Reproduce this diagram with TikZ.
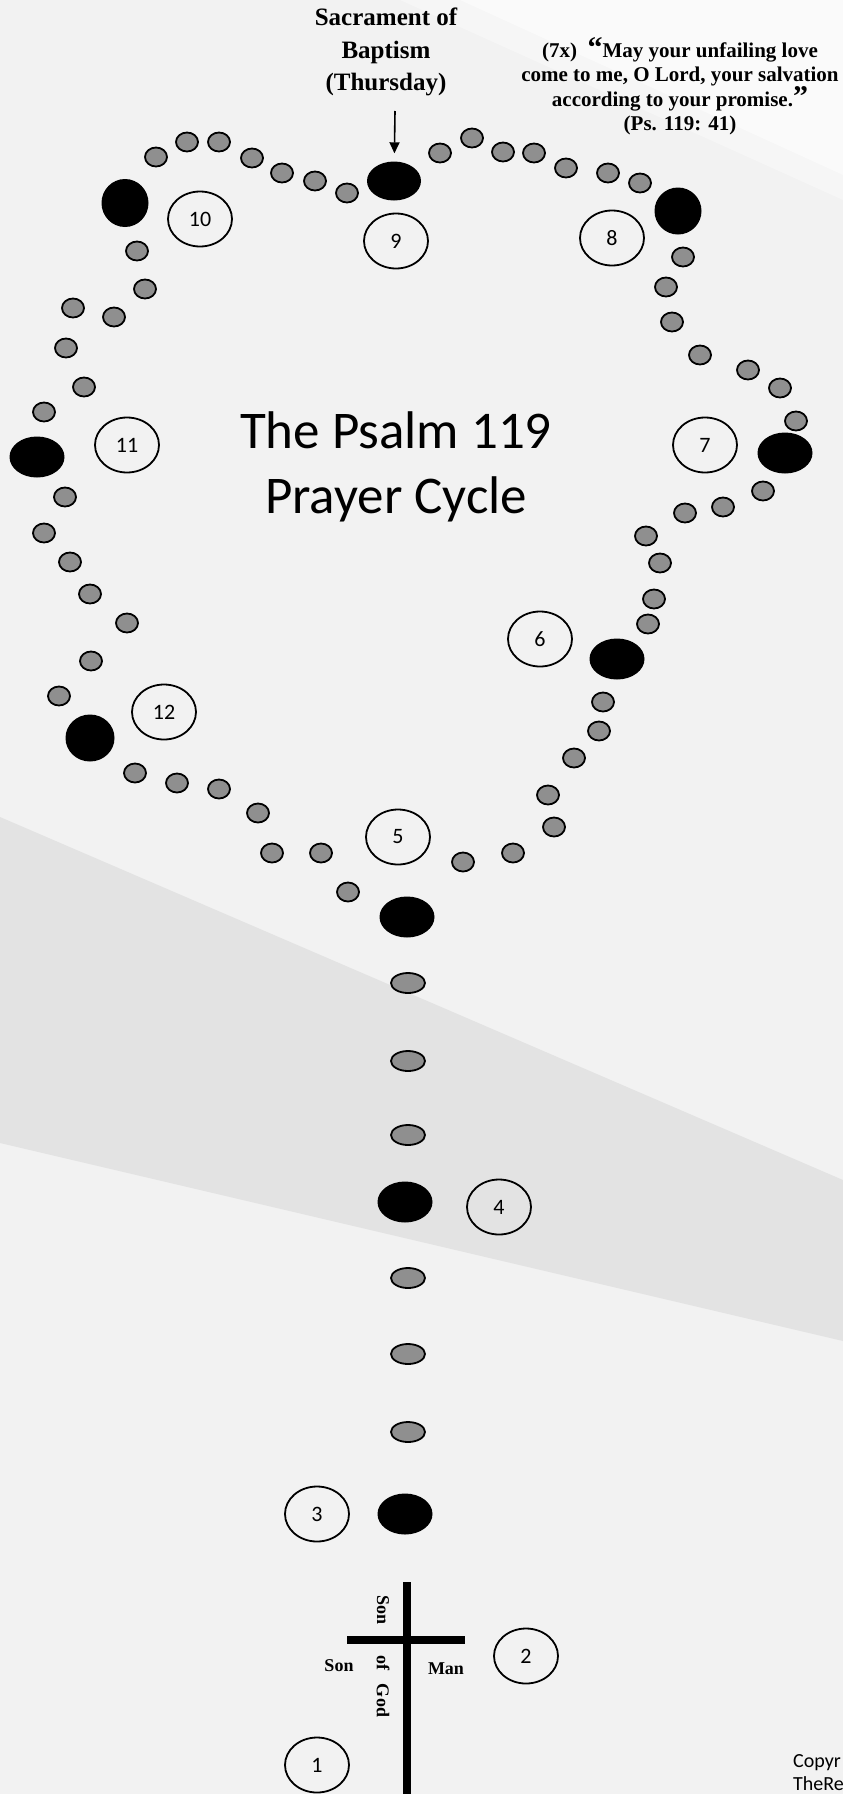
\documentclass[tikz,border=0pt]{standalone}
\usepackage{fontspec}
\setmainfont{Liberation Serif}
\newfontfamily\calibri{Carlito}
\usetikzlibrary{shapes.geometric,arrows.meta}
\definecolor{bgcol}{HTML}{F2F2F2}
\definecolor{bandcol}{HTML}{E3E3E3}
\definecolor{glarecol}{HTML}{F6F6F6}
\definecolor{glarecolb}{HTML}{FAFAFA}
\definecolor{beadgray}{HTML}{8F8F8F}

\begin{document}
\begin{tikzpicture}[x=1pt,y=-1pt,
    bead/.style ={ellipse, draw, fill=beadgray, line width=1.8pt, minimum width=22pt, minimum height=19pt, inner sep=0pt},
    stembead/.style ={bead, minimum width=34pt, minimum height=20pt},
    bigbead/.style ={ellipse, fill=black, minimum width=55pt, minimum height=41pt, inner sep=0pt},
    numcircle/.style ={ellipse, draw, line width=1.8pt, minimum width=64pt, minimum height=55pt, inner sep=0pt, font=\calibri\fontsize{22}{22}\selectfont},
    caption/.style ={font=\bfseries\fontsize{18}{18}\selectfont, inner sep=0pt}]
   % background
   \fill[bgcol] (0,0) rectangle (843,1794);
   \fill[glarecol] (400,0) -- (843,0) -- (843,200) -- cycle;
   \fill[glarecolb] (460,0) -- (843,0) -- (843,175) -- cycle;
   \fill[bandcol] (0,817) -- (843,1180) -- (843,1341) -- (0,1143) -- cycle;
   \useasboundingbox (0,0) rectangle (843,1794);

   % title and texts
   \node[font=\calibri\fontsize{53}{53}\selectfont, anchor=base] (T1) at (396,448) {The Psalm 119};
   \node[font=\calibri\fontsize{53}{53}\selectfont, anchor=base] (T2) at (396,513) {Prayer Cycle};
   \node[align=center, font=\bfseries\fontsize{25}{32.5}\selectfont] (sacr) at (386,52) {Sacrament of\\Baptism\\(Thursday)};
   \node[align=center, font=\bfseries\fontsize{21}{24}\selectfont] (quote) at (680,86)
     {(7x)\ \ {\fontsize{30}{24}\selectfont“}May your unfailing love\\come to me, O Lord, your salvation\\according to your promise.{\fontsize{30}{24}\selectfont”}\\(Ps. 119: 41)};
   \node[anchor=base west, inner sep=0pt, font=\calibri\fontsize{20}{20}\selectfont] (copy1) at (793,1767) {Copyr};
   \node[anchor=base west, inner sep=0pt, font=\calibri\fontsize{20}{20}\selectfont] (copy2) at (793,1790) {TheRe};

   % big beads
   \node[bigbead] (B3) at (405,1514) {};
   \node[bigbead] (B4) at (405,1202) {};
   \node[bigbead] (B5) at (407,917) {};
   \node[bigbead] (B6) at (617,659) {};
   \node[bigbead] (B7) at (785,453) {};
   \node[bigbead, minimum width=47pt, minimum height=47pt] (B8) at (678,211) {};
   \node[bigbead, minimum width=54pt, minimum height=39pt] (B9) at (394,181) {};
   \node[bigbead, minimum width=47pt, minimum height=48pt] (B10) at (125,203) {};
   \node[bigbead] (B11) at (37,457) {};
   \node[bigbead, minimum width=49pt, minimum height=47pt] (B12) at (90,738) {};

   % small beads of the stem
   \node[stembead] (t1) at (408,983) {};
   \node[stembead] (t2) at (408,1061) {};
   \node[stembead] (t3) at (408,1135) {};
   \node[stembead] (t4) at (408,1278) {};
   \node[stembead] (t5) at (408,1354) {};
   \node[stembead] (t6) at (408,1432) {};

   % small beads of the loop
   \node[bead] (s1) at (156,157) {};  \node[bead] (s2) at (187,142) {};
   \node[bead] (s3) at (219,142) {};  \node[bead] (s4) at (252,158) {};
   \node[bead] (s5) at (282,173) {};  \node[bead] (s6) at (315,181) {};
   \node[bead] (s7) at (347,193) {};
   \node[bead] (s8) at (440,153) {};  \node[bead] (s9) at (472,138) {};
   \node[bead] (s10) at (503,152) {}; \node[bead] (s11) at (534,153) {};
   \node[bead] (s12) at (566,168) {}; \node[bead] (s13) at (608,173) {};
   \node[bead] (s14) at (640,183) {};
   \node[bead] (s15) at (683,257) {}; \node[bead] (s16) at (666,287) {};
   \node[bead] (s17) at (672,322) {}; \node[bead] (s18) at (700,355) {};
   \node[bead] (s19) at (748,370) {}; \node[bead] (s20) at (780,388) {};
   \node[bead] (s21) at (796,421) {};
   \node[bead] (s22) at (763,491) {}; \node[bead] (s23) at (723,507) {};
   \node[bead] (s24) at (685,513) {}; \node[bead] (s25) at (646,536) {};
   \node[bead] (s26) at (660,563) {}; \node[bead] (s27) at (654,599) {};
   \node[bead] (s28) at (648,624) {};
   \node[bead] (s29) at (603,702) {}; \node[bead] (s30) at (599,731) {};
   \node[bead] (s31) at (574,758) {}; \node[bead] (s32) at (548,795) {};
   \node[bead] (s33) at (554,827) {}; \node[bead] (s34) at (513,853) {};
   \node[bead] (s35) at (463,862) {};
   \node[bead] (s36) at (348,892) {}; \node[bead] (s37) at (321,853) {};
   \node[bead] (s38) at (272,853) {}; \node[bead] (s39) at (258,813) {};
   \node[bead] (s40) at (219,789) {}; \node[bead] (s41) at (177,783) {};
   \node[bead] (s42) at (135,773) {};
   \node[bead] (s43) at (59,696) {};  \node[bead] (s44) at (91,661) {};
   \node[bead] (s45) at (127,623) {}; \node[bead] (s46) at (90,594) {};
   \node[bead] (s47) at (70,562) {};  \node[bead] (s48) at (44,533) {};
   \node[bead] (s49) at (65,497) {};
   \node[bead] (s50) at (44,412) {};  \node[bead] (s51) at (84,387) {};
   \node[bead] (s52) at (66,348) {};  \node[bead] (s53) at (73,308) {};
   \node[bead] (s54) at (114,317) {}; \node[bead] (s55) at (145,289) {};
   \node[bead] (s56) at (137,251) {};

   % numbered circles
   \node[numcircle] (L1) at (317,1765) {1};
   \node[numcircle] (L2) at (526,1656) {2};
   \node[numcircle] (L3) at (317,1514) {3};
   \node[numcircle] (L4) at (499,1207) {4};
   \node[numcircle] (L5) at (398,837) {5};
   \node[numcircle] (L6) at (540,639) {6};
   \node[numcircle] (L7) at (705,445) {7};
   \node[numcircle] (L8) at (612,238) {8};
   \node[numcircle] (L9) at (396,241) {9};
   \node[numcircle] (L10) at (200,219) {10};
   \node[numcircle] (L11) at (127,445) {11};
   \node[numcircle] (L12) at (164,712) {12};

   % arrow to the Thursday bead
   \coordinate (arrtop) at (395,111);
   \draw[line width=1.6pt, -{Triangle[width=10pt,length=11pt]}, shorten >=8pt] (arrtop) -- (B9);

   % cross
   \draw[line width=8pt] (407,1582) -- (407,1794);
   \draw[line width=8pt] (347,1640) -- (465,1640);
   \node[caption] (sonL) at (339,1666) {Son};
   \node[caption] (man) at (446,1669) {Man};
   \node[caption, rotate=-90] (sonV) at (383,1610) {Son};
   \node[caption, rotate=-90] (ofgod) at (383,1686) {of\hspace{14pt}God};
 \end{tikzpicture}
\end{document}
